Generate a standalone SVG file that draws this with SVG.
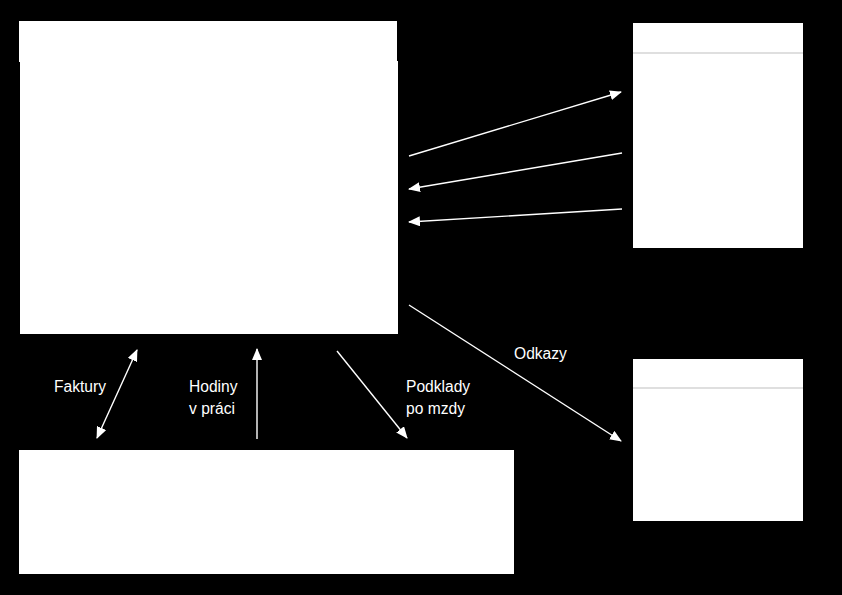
<svg xmlns="http://www.w3.org/2000/svg" width="842" height="595" viewBox="0 0 842 595">
<style>
.box{fill:#fff;stroke:none}
.sep{stroke:#c0c0c0;stroke-width:1.2}
.ln{stroke:#fff;stroke-width:1.4;fill:none}
.lbl{font-family:"Liberation Sans",Arial,sans-serif;font-size:15.6px;fill:#fff}
</style>
<defs>
<marker id="ah" viewBox="0 0 12 10" refX="11" refY="5" markerWidth="12" markerHeight="10" markerUnits="userSpaceOnUse" orient="auto-start-reverse">
<path d="M0,0 L12,5 L0,10 Z" fill="#fff"/>
</marker>
</defs>
<rect width="842" height="595" fill="#000"/>
<g id="main">
<rect class="box" x="19" y="21" width="378" height="41"/>
<rect class="box" x="20" y="61" width="378" height="273"/>
</g>
<g id="right-top">
<rect class="box" x="633" y="23" width="170" height="225"/>
<line class="sep" x1="633" y1="53" x2="803" y2="53"/>
</g>
<g id="right-bottom">
<rect class="box" x="633" y="359" width="170" height="162"/>
<line class="sep" x1="633" y1="388" x2="803" y2="388"/>
</g>
<g id="bottom">
<rect class="box" x="19" y="450" width="495" height="124"/>
</g>
<g id="connectors">
<line class="ln" x1="409" y1="156" x2="621" y2="92" marker-end="url(#ah)"/>
<line class="ln" x1="622" y1="153" x2="409" y2="189" marker-end="url(#ah)"/>
<line class="ln" x1="622" y1="209" x2="409" y2="222" marker-end="url(#ah)"/>
<line class="ln" x1="409" y1="305" x2="621" y2="441" marker-end="url(#ah)"/>
<line class="ln" x1="97" y1="438" x2="137" y2="350" marker-start="url(#ah)" marker-end="url(#ah)"/>
<line class="ln" x1="257" y1="439" x2="257" y2="349" marker-end="url(#ah)"/>
<line class="ln" x1="337" y1="351" x2="407" y2="438" marker-end="url(#ah)"/>
</g>
<g id="labels">
<text class="lbl" x="54" y="392">Faktury</text>
<text class="lbl" x="189" y="392">Hodiny</text>
<text class="lbl" x="189" y="414">v práci</text>
<text class="lbl" x="406" y="392">Podklady</text>
<text class="lbl" x="406" y="414">po mzdy</text>
<text class="lbl" x="514" y="359">Odkazy</text>
</g>
</svg>
